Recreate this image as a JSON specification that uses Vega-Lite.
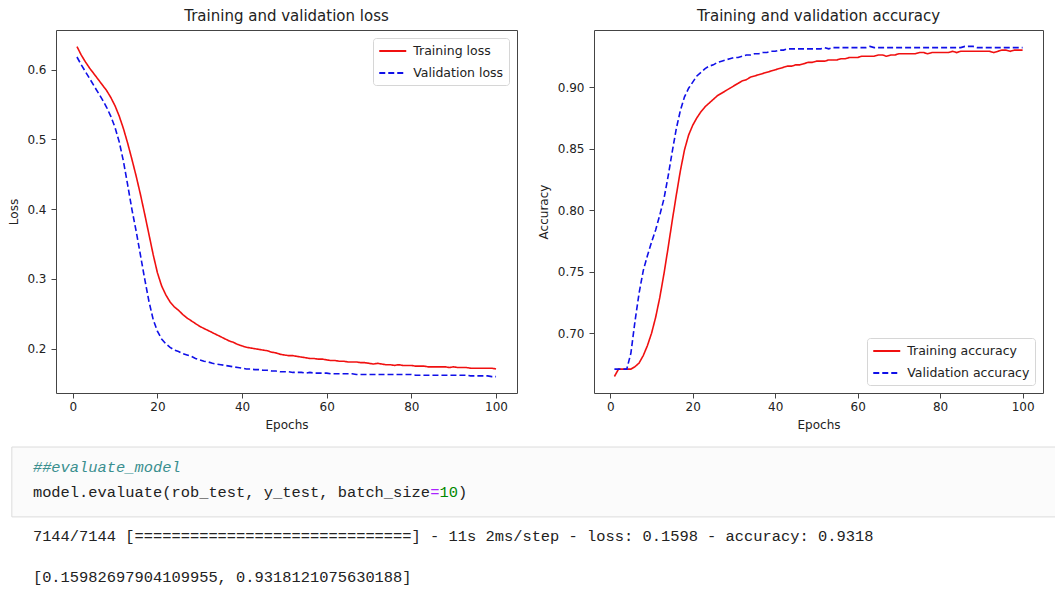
{
  "$schema": "https://vega.github.io/schema/vega-lite/v6.json",
  "background": "white",
  "padding": {"left": 6, "top": 8, "right": 0, "bottom": 0},
  "config": {
    "font": "DejaVu Sans",
    "view": {"stroke": "#444", "strokeWidth": 1},
    "axis": {"grid": false, "domain": false, "tickColor": "#444", "tickSize": 5, "labelPadding": 3, "labelColor": "#222", "titleColor": "#222", "labelFontSize": 12, "titleFontSize": 12, "titleFontWeight": "normal", "labelFont": "DejaVu Sans", "titleFont": "DejaVu Sans"},
    "title": {"fontSize": 15, "fontWeight": "normal", "color": "#222", "offset": 6, "font": "DejaVu Sans", "anchor": "middle", "frame": "group"},
    "legend": {"strokeColor": "#d6d6d6", "fillColor": "white", "cornerRadius": 3, "padding": 5, "offset": 8, "symbolType": "M-2,0H2", "symbolSize": 182, "symbolOffset": 6.75, "symbolStrokeWidth": 1.8, "labelFontSize": 12.5, "labelColor": "#222", "labelFont": "DejaVu Sans", "rowPadding": 7, "labelOffset": 12.5}
  },
  "datasets": {
    "history": [
      {"epoch":1,"Training loss":0.633,"Validation loss":0.618,"Training accuracy":0.665,"Validation accuracy":0.671},
      {"epoch":2,"Training loss":0.621,"Validation loss":0.607,"Training accuracy":0.671,"Validation accuracy":0.671},
      {"epoch":3,"Training loss":0.611,"Validation loss":0.597,"Training accuracy":0.671,"Validation accuracy":0.671},
      {"epoch":4,"Training loss":0.602,"Validation loss":0.587,"Training accuracy":0.671,"Validation accuracy":0.671},
      {"epoch":5,"Training loss":0.594,"Validation loss":0.577,"Training accuracy":0.671,"Validation accuracy":0.684},
      {"epoch":6,"Training loss":0.586,"Validation loss":0.567,"Training accuracy":0.673,"Validation accuracy":0.710},
      {"epoch":7,"Training loss":0.578,"Validation loss":0.557,"Training accuracy":0.676,"Validation accuracy":0.733},
      {"epoch":8,"Training loss":0.570,"Validation loss":0.546,"Training accuracy":0.682,"Validation accuracy":0.751},
      {"epoch":9,"Training loss":0.560,"Validation loss":0.533,"Training accuracy":0.690,"Validation accuracy":0.763},
      {"epoch":10,"Training loss":0.548,"Validation loss":0.517,"Training accuracy":0.700,"Validation accuracy":0.774},
      {"epoch":11,"Training loss":0.533,"Validation loss":0.496,"Training accuracy":0.713,"Validation accuracy":0.784},
      {"epoch":12,"Training loss":0.515,"Validation loss":0.468,"Training accuracy":0.729,"Validation accuracy":0.796},
      {"epoch":13,"Training loss":0.494,"Validation loss":0.434,"Training accuracy":0.748,"Validation accuracy":0.809},
      {"epoch":14,"Training loss":0.471,"Validation loss":0.399,"Training accuracy":0.769,"Validation accuracy":0.827},
      {"epoch":15,"Training loss":0.447,"Validation loss":0.368,"Training accuracy":0.791,"Validation accuracy":0.847},
      {"epoch":16,"Training loss":0.421,"Validation loss":0.334,"Training accuracy":0.812,"Validation accuracy":0.866},
      {"epoch":17,"Training loss":0.393,"Validation loss":0.300,"Training accuracy":0.832,"Validation accuracy":0.881},
      {"epoch":18,"Training loss":0.364,"Validation loss":0.268,"Training accuracy":0.849,"Validation accuracy":0.892},
      {"epoch":19,"Training loss":0.335,"Validation loss":0.242,"Training accuracy":0.861,"Validation accuracy":0.899},
      {"epoch":20,"Training loss":0.309,"Validation loss":0.225,"Training accuracy":0.869,"Validation accuracy":0.904},
      {"epoch":21,"Training loss":0.290,"Validation loss":0.214,"Training accuracy":0.875,"Validation accuracy":0.909},
      {"epoch":22,"Training loss":0.277,"Validation loss":0.207,"Training accuracy":0.880,"Validation accuracy":0.912},
      {"epoch":23,"Training loss":0.267,"Validation loss":0.202,"Training accuracy":0.884,"Validation accuracy":0.915},
      {"epoch":24,"Training loss":0.260,"Validation loss":0.198,"Training accuracy":0.887,"Validation accuracy":0.917},
      {"epoch":25,"Training loss":0.255,"Validation loss":0.196,"Training accuracy":0.890,"Validation accuracy":0.918},
      {"epoch":26,"Training loss":0.249,"Validation loss":0.193,"Training accuracy":0.893,"Validation accuracy":0.920},
      {"epoch":27,"Training loss":0.244,"Validation loss":0.191,"Training accuracy":0.895,"Validation accuracy":0.921},
      {"epoch":28,"Training loss":0.240,"Validation loss":0.189,"Training accuracy":0.897,"Validation accuracy":0.922},
      {"epoch":29,"Training loss":0.236,"Validation loss":0.186,"Training accuracy":0.899,"Validation accuracy":0.923},
      {"epoch":30,"Training loss":0.232,"Validation loss":0.184,"Training accuracy":0.901,"Validation accuracy":0.924},
      {"epoch":31,"Training loss":0.229,"Validation loss":0.182,"Training accuracy":0.903,"Validation accuracy":0.924},
      {"epoch":32,"Training loss":0.226,"Validation loss":0.181,"Training accuracy":0.905,"Validation accuracy":0.925},
      {"epoch":33,"Training loss":0.223,"Validation loss":0.179,"Training accuracy":0.906,"Validation accuracy":0.926},
      {"epoch":34,"Training loss":0.220,"Validation loss":0.178,"Training accuracy":0.908,"Validation accuracy":0.926},
      {"epoch":35,"Training loss":0.217,"Validation loss":0.177,"Training accuracy":0.909,"Validation accuracy":0.927},
      {"epoch":36,"Training loss":0.214,"Validation loss":0.176,"Training accuracy":0.910,"Validation accuracy":0.927},
      {"epoch":37,"Training loss":0.211,"Validation loss":0.175,"Training accuracy":0.911,"Validation accuracy":0.928},
      {"epoch":38,"Training loss":0.209,"Validation loss":0.174,"Training accuracy":0.912,"Validation accuracy":0.928},
      {"epoch":39,"Training loss":0.206,"Validation loss":0.173,"Training accuracy":0.913,"Validation accuracy":0.929},
      {"epoch":40,"Training loss":0.204,"Validation loss":0.172,"Training accuracy":0.914,"Validation accuracy":0.929},
      {"epoch":41,"Training loss":0.202,"Validation loss":0.171,"Training accuracy":0.915,"Validation accuracy":0.930},
      {"epoch":42,"Training loss":0.201,"Validation loss":0.171,"Training accuracy":0.916,"Validation accuracy":0.930},
      {"epoch":43,"Training loss":0.200,"Validation loss":0.170,"Training accuracy":0.917,"Validation accuracy":0.931},
      {"epoch":44,"Training loss":0.199,"Validation loss":0.170,"Training accuracy":0.917,"Validation accuracy":0.931},
      {"epoch":45,"Training loss":0.198,"Validation loss":0.169,"Training accuracy":0.918,"Validation accuracy":0.931},
      {"epoch":46,"Training loss":0.197,"Validation loss":0.169,"Training accuracy":0.918,"Validation accuracy":0.931},
      {"epoch":47,"Training loss":0.195,"Validation loss":0.168,"Training accuracy":0.919,"Validation accuracy":0.931},
      {"epoch":48,"Training loss":0.194,"Validation loss":0.168,"Training accuracy":0.920,"Validation accuracy":0.931},
      {"epoch":49,"Training loss":0.192,"Validation loss":0.167,"Training accuracy":0.920,"Validation accuracy":0.931},
      {"epoch":50,"Training loss":0.191,"Validation loss":0.167,"Training accuracy":0.921,"Validation accuracy":0.931},
      {"epoch":51,"Training loss":0.190,"Validation loss":0.167,"Training accuracy":0.921,"Validation accuracy":0.931},
      {"epoch":52,"Training loss":0.190,"Validation loss":0.166,"Training accuracy":0.921,"Validation accuracy":0.932},
      {"epoch":53,"Training loss":0.189,"Validation loss":0.166,"Training accuracy":0.922,"Validation accuracy":0.931},
      {"epoch":54,"Training loss":0.188,"Validation loss":0.166,"Training accuracy":0.922,"Validation accuracy":0.932},
      {"epoch":55,"Training loss":0.187,"Validation loss":0.165,"Training accuracy":0.922,"Validation accuracy":0.932},
      {"epoch":56,"Training loss":0.186,"Validation loss":0.166,"Training accuracy":0.923,"Validation accuracy":0.932},
      {"epoch":57,"Training loss":0.186,"Validation loss":0.165,"Training accuracy":0.923,"Validation accuracy":0.932},
      {"epoch":58,"Training loss":0.185,"Validation loss":0.165,"Training accuracy":0.924,"Validation accuracy":0.932},
      {"epoch":59,"Training loss":0.185,"Validation loss":0.165,"Training accuracy":0.924,"Validation accuracy":0.932},
      {"epoch":60,"Training loss":0.184,"Validation loss":0.165,"Training accuracy":0.924,"Validation accuracy":0.932},
      {"epoch":61,"Training loss":0.183,"Validation loss":0.164,"Training accuracy":0.925,"Validation accuracy":0.932},
      {"epoch":62,"Training loss":0.183,"Validation loss":0.164,"Training accuracy":0.925,"Validation accuracy":0.932},
      {"epoch":63,"Training loss":0.182,"Validation loss":0.164,"Training accuracy":0.925,"Validation accuracy":0.933},
      {"epoch":64,"Training loss":0.182,"Validation loss":0.164,"Training accuracy":0.925,"Validation accuracy":0.932},
      {"epoch":65,"Training loss":0.181,"Validation loss":0.164,"Training accuracy":0.926,"Validation accuracy":0.932},
      {"epoch":66,"Training loss":0.181,"Validation loss":0.164,"Training accuracy":0.926,"Validation accuracy":0.932},
      {"epoch":67,"Training loss":0.181,"Validation loss":0.163,"Training accuracy":0.925,"Validation accuracy":0.932},
      {"epoch":68,"Training loss":0.180,"Validation loss":0.163,"Training accuracy":0.926,"Validation accuracy":0.932},
      {"epoch":69,"Training loss":0.180,"Validation loss":0.163,"Training accuracy":0.926,"Validation accuracy":0.932},
      {"epoch":70,"Training loss":0.179,"Validation loss":0.163,"Training accuracy":0.927,"Validation accuracy":0.932},
      {"epoch":71,"Training loss":0.178,"Validation loss":0.163,"Training accuracy":0.927,"Validation accuracy":0.932},
      {"epoch":72,"Training loss":0.179,"Validation loss":0.163,"Training accuracy":0.927,"Validation accuracy":0.932},
      {"epoch":73,"Training loss":0.178,"Validation loss":0.163,"Training accuracy":0.927,"Validation accuracy":0.932},
      {"epoch":74,"Training loss":0.177,"Validation loss":0.163,"Training accuracy":0.927,"Validation accuracy":0.932},
      {"epoch":75,"Training loss":0.177,"Validation loss":0.163,"Training accuracy":0.928,"Validation accuracy":0.932},
      {"epoch":76,"Training loss":0.176,"Validation loss":0.163,"Training accuracy":0.928,"Validation accuracy":0.932},
      {"epoch":77,"Training loss":0.177,"Validation loss":0.163,"Training accuracy":0.927,"Validation accuracy":0.932},
      {"epoch":78,"Training loss":0.176,"Validation loss":0.163,"Training accuracy":0.928,"Validation accuracy":0.932},
      {"epoch":79,"Training loss":0.176,"Validation loss":0.163,"Training accuracy":0.928,"Validation accuracy":0.932},
      {"epoch":80,"Training loss":0.176,"Validation loss":0.163,"Training accuracy":0.928,"Validation accuracy":0.932},
      {"epoch":81,"Training loss":0.175,"Validation loss":0.162,"Training accuracy":0.928,"Validation accuracy":0.932},
      {"epoch":82,"Training loss":0.175,"Validation loss":0.162,"Training accuracy":0.928,"Validation accuracy":0.932},
      {"epoch":83,"Training loss":0.175,"Validation loss":0.162,"Training accuracy":0.929,"Validation accuracy":0.932},
      {"epoch":84,"Training loss":0.174,"Validation loss":0.162,"Training accuracy":0.928,"Validation accuracy":0.932},
      {"epoch":85,"Training loss":0.174,"Validation loss":0.162,"Training accuracy":0.929,"Validation accuracy":0.932},
      {"epoch":86,"Training loss":0.174,"Validation loss":0.162,"Training accuracy":0.929,"Validation accuracy":0.933},
      {"epoch":87,"Training loss":0.174,"Validation loss":0.162,"Training accuracy":0.929,"Validation accuracy":0.933},
      {"epoch":88,"Training loss":0.174,"Validation loss":0.162,"Training accuracy":0.929,"Validation accuracy":0.933},
      {"epoch":89,"Training loss":0.173,"Validation loss":0.162,"Training accuracy":0.929,"Validation accuracy":0.932},
      {"epoch":90,"Training loss":0.174,"Validation loss":0.162,"Training accuracy":0.929,"Validation accuracy":0.932},
      {"epoch":91,"Training loss":0.173,"Validation loss":0.162,"Training accuracy":0.929,"Validation accuracy":0.932},
      {"epoch":92,"Training loss":0.173,"Validation loss":0.162,"Training accuracy":0.929,"Validation accuracy":0.932},
      {"epoch":93,"Training loss":0.173,"Validation loss":0.162,"Training accuracy":0.928,"Validation accuracy":0.932},
      {"epoch":94,"Training loss":0.172,"Validation loss":0.161,"Training accuracy":0.929,"Validation accuracy":0.932},
      {"epoch":95,"Training loss":0.172,"Validation loss":0.161,"Training accuracy":0.930,"Validation accuracy":0.932},
      {"epoch":96,"Training loss":0.172,"Validation loss":0.161,"Training accuracy":0.930,"Validation accuracy":0.932},
      {"epoch":97,"Training loss":0.172,"Validation loss":0.161,"Training accuracy":0.929,"Validation accuracy":0.932},
      {"epoch":98,"Training loss":0.172,"Validation loss":0.161,"Training accuracy":0.930,"Validation accuracy":0.932},
      {"epoch":99,"Training loss":0.172,"Validation loss":0.160,"Training accuracy":0.930,"Validation accuracy":0.932},
      {"epoch":100,"Training loss":0.171,"Validation loss":0.160,"Training accuracy":0.930,"Validation accuracy":0.932}
    ],
    "cellbox": [
      {"col_start": -4.78, "col_end": 110, "line_top": 0, "line_bottom": 2.69}
    ],
    "celltext": [
      {"col": -2.5, "line": 0.77, "kind": "comment", "text": "##evaluate_model"},
      {"col": -2.5, "line": 1.75, "kind": "code", "text": "model.evaluate(rob_test, y_test, batch_size"},
      {"col": 40.5, "line": 1.75, "kind": "operator", "text": "="},
      {"col": 41.5, "line": 1.75, "kind": "number", "text": "10"},
      {"col": 43.5, "line": 1.75, "kind": "code", "text": ")"},
      {"col": -2.5, "line": 3.42, "kind": "output", "text": "7144/7144 [==============================] - 11s 2ms/step - loss: 0.1598 - accuracy: 0.9318"},
      {"col": -2.5, "line": 5.0, "kind": "output", "text": "[0.15982697904109955, 0.9318121075630188]"}
    ]
  },
  "spacing": 15,
  "vconcat": [
    {
      "spacing": 18,
      "resolve": {"scale": {"color": "independent", "strokeDash": "independent", "x": "independent", "y": "independent"}, "legend": {"color": "independent", "strokeDash": "independent"}},
      "hconcat": [
        {
          "width": 461,
          "height": 363,
          "title": "Training and validation loss",
          "data": {"name": "history"},
          "transform": [{"fold": ["Training loss", "Validation loss"], "as": ["series", "value"]}],
          "mark": {"type": "line", "strokeWidth": 1.6, "clip": true},
          "encoding": {
            "x": {"field": "epoch", "type": "quantitative", "scale": {"domain": [-3.95, 104.95], "nice": false, "zero": false}, "axis": {"title": "Epochs", "values": [0, 20, 40, 60, 80, 100], "titlePadding": 7}},
            "y": {"field": "value", "type": "quantitative", "scale": {"domain": [0.1365, 0.6567], "nice": false, "zero": false}, "axis": {"title": "Loss", "values": [0.2, 0.3, 0.4, 0.5, 0.6], "format": ".1f", "labelPadding": 5, "minExtent": 29, "maxExtent": 29, "titlePadding": 7}},
            "color": {"field": "series", "type": "nominal", "scale": {"domain": ["Training loss", "Validation loss"], "range": ["#f01010", "#1010e8"]}, "legend": {"title": null, "orient": "top-right"}},
            "strokeDash": {"field": "series", "type": "nominal", "scale": {"domain": ["Training loss", "Validation loss"], "range": [[1, 0], [6, 3]]}, "legend": {"title": null, "orient": "top-right"}}
          }
        },
        {
          "width": 449,
          "height": 363,
          "title": "Training and validation accuracy",
          "data": {"name": "history"},
          "transform": [{"fold": ["Training accuracy", "Validation accuracy"], "as": ["series", "value"]}],
          "mark": {"type": "line", "strokeWidth": 1.6, "clip": true},
          "encoding": {
            "x": {"field": "epoch", "type": "quantitative", "scale": {"domain": [-3.95, 104.95], "nice": false, "zero": false}, "axis": {"title": "Epochs", "values": [0, 20, 40, 60, 80, 100], "titlePadding": 7}},
            "y": {"field": "value", "type": "quantitative", "scale": {"domain": [0.6516, 0.9463], "nice": false, "zero": false}, "axis": {"title": "Accuracy", "values": [0.7, 0.75, 0.8, 0.85, 0.9], "format": ".2f", "labelPadding": 5, "minExtent": 37, "maxExtent": 37, "titlePadding": 7}},
            "color": {"field": "series", "type": "nominal", "scale": {"domain": ["Training accuracy", "Validation accuracy"], "range": ["#f01010", "#1010e8"]}, "legend": {"title": null, "orient": "bottom-right"}},
            "strokeDash": {"field": "series", "type": "nominal", "scale": {"domain": ["Training accuracy", "Validation accuracy"], "range": [[1, 0], [6, 3]]}, "legend": {"title": null, "orient": "bottom-right"}}
          }
        }
      ]
    },
    {
      "width": 999,
      "height": 144,
      "view": {"stroke": null},
      "layer": [
        {
          "data": {"name": "cellbox"},
          "mark": {"type": "rect", "fill": "#fbfbfb", "stroke": "#dcdcdc", "strokeWidth": 1},
          "encoding": {
            "x": {"field": "col_start", "type": "quantitative", "scale": {"domain": [0, 108.1], "nice": false, "zero": false}, "axis": null},
            "x2": {"field": "col_end"},
            "y": {"field": "line_top", "type": "quantitative", "scale": {"domain": [0, 5.54], "nice": false, "zero": false, "reverse": true}, "axis": null},
            "y2": {"field": "line_bottom"}
          }
        },
        {
          "data": {"name": "celltext"},
          "transform": [{"filter": "datum.kind === 'comment'"}],
          "mark": {"type": "text", "align": "left", "baseline": "middle", "font": "Liberation Mono", "fontSize": 15.4, "fontStyle": "italic", "color": "#3a8f8f"},
          "encoding": {
            "x": {"field": "col", "type": "quantitative", "axis": null},
            "y": {"field": "line", "type": "quantitative", "axis": null},
            "text": {"field": "text"}
          }
        },
        {
          "data": {"name": "celltext"},
          "transform": [{"filter": "datum.kind !== 'comment'"}],
          "mark": {"type": "text", "align": "left", "baseline": "middle", "font": "Liberation Mono", "fontSize": 15.4},
          "encoding": {
            "x": {"field": "col", "type": "quantitative", "axis": null},
            "y": {"field": "line", "type": "quantitative", "axis": null},
            "text": {"field": "text"},
            "color": {"field": "kind", "type": "nominal", "scale": {"domain": ["code", "operator", "number", "output"], "range": ["#222222", "#aa22ff", "#008800", "#222222"]}, "legend": null}
          }
        }
      ]
    }
  ]
}
